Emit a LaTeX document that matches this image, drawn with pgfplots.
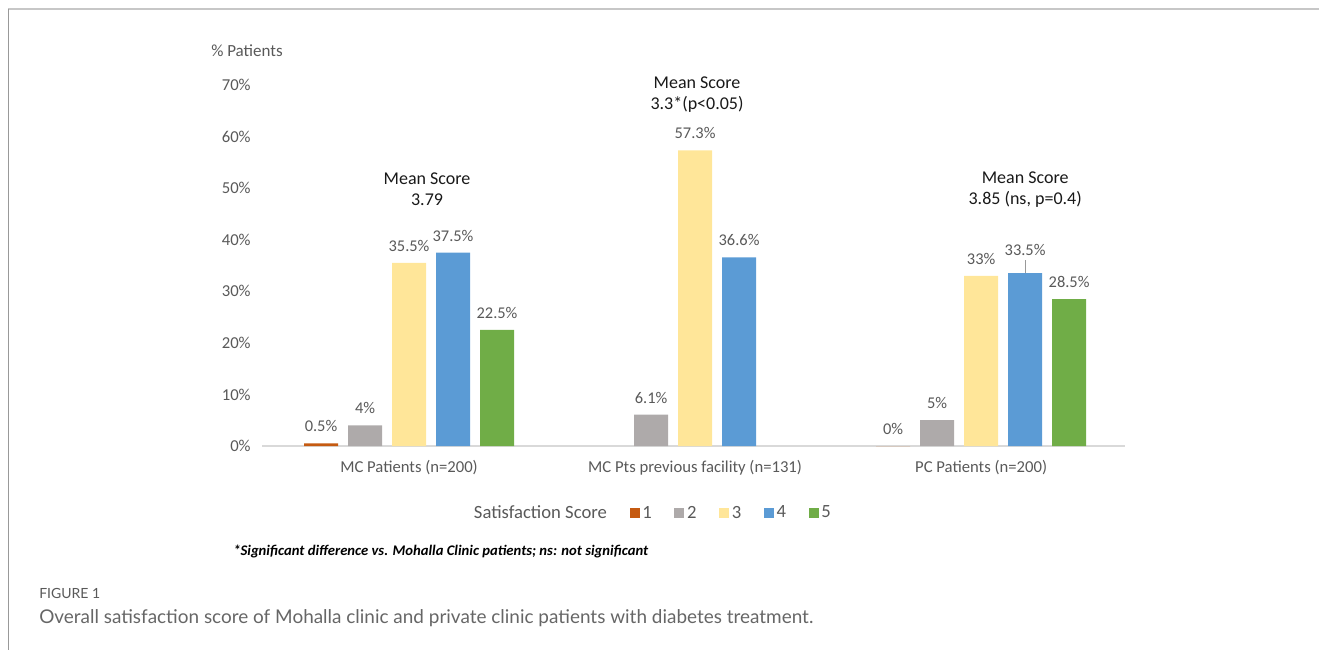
\documentclass[border=0pt]{standalone}
\usepackage{pgfplots}
\pgfplotsset{compat=1.18}
\usepackage{fontspec}
\setmainfont{Carlito}
\newfontfamily\capfont{Lato}
\definecolor{cA}{HTML}{C55A11}
\definecolor{cB}{HTML}{AEAAAA}
\definecolor{cC}{HTML}{FFE699}
\definecolor{cD}{HTML}{5B9BD5}
\definecolor{cE}{HTML}{70AD47}
\definecolor{txt}{HTML}{595959}
\definecolor{axl}{HTML}{D9D9D9}
\begin{document}
\begin{tikzpicture}[x=0.75pt,y=0.75pt]
\path[use as bounding box] (0,0) rectangle (1319,650);
\draw[color=black!22, line width=1.5pt] (8,641) -- (1319,641);
\draw[color=black!40, line width=0.75pt] (8,641) -- (8,0);
\begin{axis}[
  at={(196.5pt,153pt)}, anchor=south west,
  scale only axis, width=647.25pt, height=270.75pt,
  xmin=-0.514, xmax=2.503, ymin=0, ymax=70,
  ybar=7.5pt, bar width=25.5pt,
  axis x line*=bottom, axis y line*=left,
  x axis line style={-, draw=axl, line width=1pt},
  y axis line style={draw=none},
  major tick length=0pt,
  ytick={0,10,...,70},
  yticklabel={\pgfmathprintnumber{\tick}\%},
  /pgf/number format/assume math mode=true,
  xtick={0,1,2},
  xticklabels={MC Patients (n=200), MC Pts previous facility (n=131), PC Patients (n=200)},
  tick label style={font=\fontsize{12.5}{14}\selectfont, text=txt},
  yticklabel style={xshift=-5pt},
  xticklabel style={yshift=-7.5pt},
  clip=false,
  nodes near coords, point meta=explicit symbolic,
  nodes near coords style={font=\fontsize{12.3}{14}\selectfont, text=txt, yshift=5pt},
  legend image code/.code={\draw[#1,draw=none] (0pt,-3.5pt) rectangle (7.5pt,4pt);},
  legend columns=6,
  legend style={at={(0.2422,-0.1856)}, anchor=west, draw=none, fill=none, inner sep=0pt,
    font=\fontsize{14}{16}\selectfont, text=txt,
    /tikz/every even column/.append style={column sep=15pt}},
]
\addlegendimage{empty legend}
\addlegendentry{Satisfaction Score}
\addplot[fill=cA, draw=none] coordinates {(0,0.5) [0.5\%] (2,0) [0\%]};
\addlegendentry{1}
\addplot[fill=cB, draw=none] coordinates {(0,4) [4\%] (1,6.1) [6.1\%] (2,5) [5\%]};
\addlegendentry{2}
\addplot[fill=cC, draw=none] coordinates {(0,35.5) [35.5\%] (1,57.3) [57.3\%] (2,33) [33\%]};
\addlegendentry{3}
\addplot[fill=cD, draw=none] coordinates {(0,37.5) [37.5\%] (1,36.6) [36.6\%] (2,33.5) [\raisebox{4.5pt}{33.5\%}]};
\addlegendentry{4}
\addplot[fill=cE, draw=none] coordinates {(0,22.5) [22.5\%] (2,28.5) [28.5\%]};
\addlegendentry{5}
\draw[color=black!40, line width=0.75pt] (axis cs:2.1538,33.5) -- (axis cs:2.1538,36.1);
\node[align=center, font=\fontsize{13.5}{15.75}\selectfont, text=black!90] at (axis cs:0.063,49.8) {Mean Score\\3.79};
\node[align=center, font=\fontsize{13.5}{15.75}\selectfont, text=black!90] at (axis cs:1.007,68.06) {Mean Score\\3.3*(p<0.05)};
\node[align=center, font=\fontsize{13.5}{15.75}\selectfont, text=black!90] at (axis cs:2.154,49.8) {Mean Score\\3.85 (ns, p=0.4)};
\end{axis}
\node[anchor=west, inner sep=0pt, font=\fontsize{12.75}{15}\selectfont, text=txt] at (211,599) {\% Patients};
\node[anchor=west, inner sep=0pt, font=\bfseries\itshape\fontsize{11}{13}\selectfont] at (233,99) {*Significant difference vs. Mohalla Clinic patients; ns: not significant};
\node[anchor=west, inner sep=0pt, font=\capfont\fontsize{10.5}{12}\selectfont, text=txt] at (39,57) {FIGURE 1};
\node[anchor=west, inner sep=0pt, font=\capfont\fontsize{14.2}{16}\selectfont, text=black!60] at (39,32) {Overall satisfaction score of Mohalla clinic and private clinic patients with diabetes treatment.};
\end{tikzpicture}
\end{document}
